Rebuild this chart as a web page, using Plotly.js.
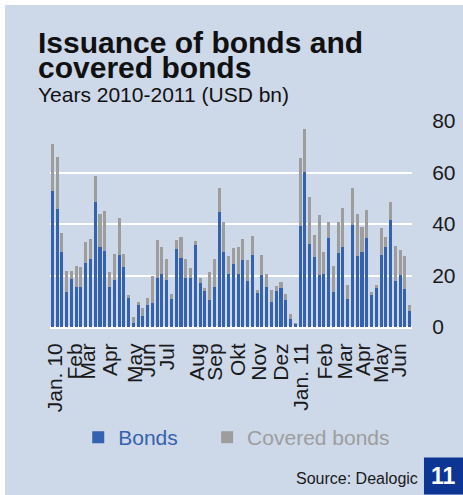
<!DOCTYPE html>
<html>
<head>
<meta charset="utf-8">
<script src="https://cdn.plot.ly/plotly-3.0.1.min.js"></script>
<style>
  html, body { margin: 0; padding: 0; background: #ffffff; width: 463px; height: 495px; overflow: hidden; }
  #chart { position: absolute; left: 5px; top: 5px; width: 458px; height: 490px; }
</style>
</head>
<body>
<div id="chart"></div>
<script>
// Weekly issuance, Jan 2010 - Jun 2011 (USD bn)
const bonds = [53.0, 45.8, 29.2, 13.5, 18.8, 15.4, 15.4, 25.0, 26.5, 48.6,
  31.2, 29.5, 15.4, 18.4, 27.8, 23.4, 11.4, 1.6, 8.7, 4.4,
  8.7, 9.4, 19.1, 20.7, 18.4, 11.0, 30.4, 26.9, 19.1, 19.1,
  31.7, 17.1, 13.8, 10.6, 15.4, 44.5, 29.0, 20.7, 24.3, 20.7,
  26.1, 18.0, 27.8, 13.1, 20.1, 15.7, 9.8, 14.0, 15.3, 10.6,
  3.1, 1.2, 39.3, 60.3, 32.2, 27.3, 20.1, 20.7, 34.7, 13.7,
  28.8, 31.2, 11.0, 39.7, 27.4, 29.2, 34.7, 12.3, 15.3, 28.1,
  31.2, 41.7, 18.0, 20.3, 14.9, 6.1];
const coveredBonds = [18.0, 20.4, 7.5, 8.1, 2.8, 8.4, 7.8, 8.0, 7.8, 10.1,
  12.7, 15.6, 5.8, 9.9, 14.6, 4.9, 1.0, 2.3, 1.0, 3.0,
  2.6, 10.5, 14.7, 10.3, 8.1, 1.9, 3.5, 7.9, 7.4, 3.9,
  1.8, 2.0, 1.5, 10.7, 11.1, 9.6, 11.7, 6.7, 6.2, 10.3,
  7.9, 8.0, 7.6, 1.3, 7.8, 5.0, 4.6, 2.0, 2.2, 2.2,
  2.1, 0.4, 26.3, 16.7, 18.4, 8.4, 23.4, 8.3, 6.2, 10.1,
  11.8, 15.0, 5.4, 14.4, 16.3, 9.6, 10.7, 1.4, 1.1, 10.3,
  3.7, 6.8, 13.3, 9.6, 12.8, 2.6];
const monthLabels = ["Jan. 10", "Feb", "Mar", "Apr", "May", "Jun", "Jul", "Aug", "Sep",
  "Okt", "Nov", "Dez", "Jan. 11", "Feb", "Mar", "Apr", "May", "Jun"];
const monthWeekIndex = [0.6, 4.8, 7.5, 12.1, 17.3, 20.1, 24.0, 30.3, 34.1,
  39.0, 43.5, 48.1, 52.3, 57.2, 61.4, 65.2, 69.1, 72.9];
const yTicks = [0, 20, 40, 60, 80];

const weekIdx = bonds.map((_, i) => i);
const BG = '#cdd8e9';
const BLUE = '#3562ae';
const GREY = '#9d9d9d';
const FONT = 'Liberation Sans, Arial, Helvetica, sans-serif';

const traces = [
  { type: 'bar', name: 'Bonds', x: weekIdx, y: bonds, marker: { color: BLUE, line: { width: 0 } }, legend: 'legend', showlegend: true },
  { type: 'bar', name: 'Covered bonds', x: weekIdx, y: coveredBonds, marker: { color: GREY, line: { width: 0 } }, legend: 'legend2', showlegend: true }
];

const titleText =
  '<span style="font-size:30px"><b>Issuance of bonds and</b></span><br>' +
  '<span style="font-size:30px"><b>covered bonds</b></span><br>' +
  '<span style="font-size:21px">Years 2010-2011 (USD bn)</span>';

const layout = {
  width: 458, height: 490,
  margin: { l: 45, r: 51, t: 116, b: 168, pad: 0 },
  paper_bgcolor: BG, plot_bgcolor: BG,
  barmode: 'stack', bargap: 0.36,
  showlegend: true,
  font: { family: FONT, color: '#1a1a1a' },
  hovermode: false,
  xaxis: {
    range: [-0.5, 75.5], tickmode: 'array', tickvals: monthWeekIndex, ticktext: monthLabels,
    tickangle: -90, ticks: 'outside', ticklen: 7, tickcolor: 'rgba(0,0,0,0)',
    showgrid: false, zeroline: false, showline: false,
    tickfont: { family: FONT, size: 21, color: '#1a1a1a' }
  },
  yaxis: {
    side: 'right', range: [0, 80], tickmode: 'array', tickvals: yTicks,
    ticks: 'outside', ticklen: 15, tickcolor: 'rgba(0,0,0,0)',
    showgrid: true, gridcolor: '#ffffff', gridwidth: 2,
    zeroline: true, zerolinecolor: '#ffffff', zerolinewidth: 3, showline: false,
    tickfont: { family: FONT, size: 21, color: '#1a1a1a' }
  },
  legend: {
    orientation: 'h', x: 0.078, xanchor: 'left', y: -0.437, yanchor: 'top',
    bgcolor: 'rgba(0,0,0,0)', font: { family: FONT, size: 21, color: BLUE }, traceorder: 'normal'
  },
  legend2: {
    orientation: 'h', x: 0.434, xanchor: 'left', y: -0.437, yanchor: 'top',
    bgcolor: 'rgba(0,0,0,0)', font: { family: FONT, size: 21, color: GREY }, traceorder: 'normal'
  },
  annotations: [
    { xref: 'paper', yref: 'paper', x: -0.038, y: 1.470, xanchor: 'left', yanchor: 'top', align: 'left', showarrow: false,
      text: titleText, font: { family: FONT, size: 19, color: '#111111' } },
    { xref: 'paper', yref: 'paper', x: 1.022, y: -0.735, xanchor: 'right', yanchor: 'middle', showarrow: false,
      text: 'Source: Dealogic', font: { family: FONT, size: 16, color: '#1a1a1a' } },
    { xref: 'paper', yref: 'paper', x: 1.087, y: -0.723, xanchor: 'center', yanchor: 'middle', showarrow: false,
      text: '<b>11</b>', font: { family: FONT, size: 23, color: '#ffffff' } }
  ],
  shapes: [
    { type: 'rect', xref: 'paper', yref: 'paper', x0: 1.0331, x1: 1.15, y0: -0.8129, y1: -0.6335,
      fillcolor: '#0c3594', line: { width: 0 }, layer: 'below' }
  ]
};

Plotly.newPlot('chart', traces, layout, { displayModeBar: false, staticPlot: true });
</script>
</body>
</html>
